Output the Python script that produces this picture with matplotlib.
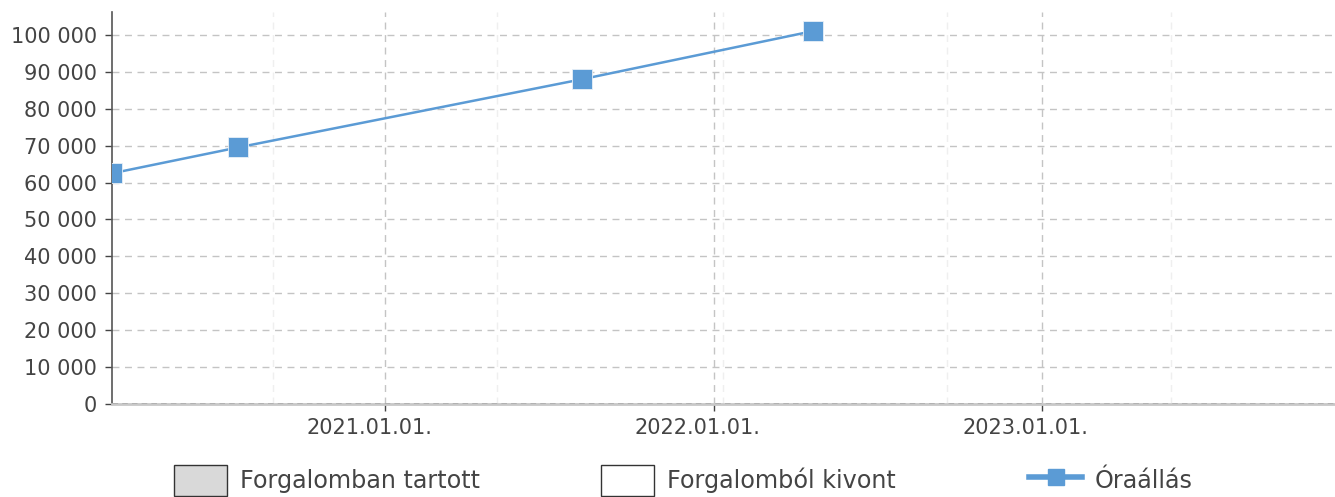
import matplotlib
matplotlib.use("Agg")
import matplotlib.pyplot as plt
import matplotlib.dates as mdates
import matplotlib.transforms as mtransforms
from matplotlib.patches import Patch
from matplotlib.lines import Line2D
from matplotlib.ticker import FuncFormatter
import pandas as pd

# data
dates = pd.to_datetime(["2020-03-03", "2020-07-21", "2021-08-08", "2022-04-21"])
readings = [62500, 69500, 88000, 101000]
year_ticks = pd.to_datetime(["2021-01-01", "2022-01-01", "2023-01-01"])
minor_ticks = pd.to_datetime(["2020-08-29", "2021-05-05", "2022-01-11", "2022-09-17", "2023-05-25"])
legend_labels = ["Forgalomban tartott", "Forgalomból kivont", "Óraállás"]

blue = "#5b9bd5"
text_col = "#444444"

fig = plt.figure(figsize=(13.35, 4.97), dpi=100)
ax = fig.add_axes([112 / 1335, 1 - 404 / 497, 1 - 112 / 1335, (404 - 12) / 497])

ax.plot(dates, readings, color=blue, linewidth=1.8, marker="s", markersize=14,
        markeredgecolor="#e8f0f8", markeredgewidth=0.6, zorder=5)

ax.set_xlim(pd.Timestamp("2020-03-03"), pd.Timestamp("2023-11-23"))
ax.set_ylim(0, 106200)

ax.set_yticks(range(0, 100001, 10000))
ax.yaxis.set_major_formatter(FuncFormatter(lambda v, p: f"{int(v):,}".replace(",", " ")))
ax.set_xticks(year_ticks)
ax.set_xticks(minor_ticks, minor=True)
ax.xaxis.set_major_formatter(mdates.DateFormatter("%Y.%m.%d."))

ax.tick_params(axis="both", labelsize=15, colors=text_col, length=5, width=1)
ax.tick_params(axis="y", pad=6)
ax.tick_params(axis="x", pad=5)
ax.tick_params(axis="x", which="minor", length=0)

# year labels sit a bit left of their ticks in the reference
shift = mtransforms.ScaledTranslation(-16 / 100, 0, fig.dpi_scale_trans)
for lab in ax.get_xticklabels():
    lab.set_transform(lab.get_transform() + shift)

ax.grid(axis="y", color="#c4c4c4", linestyle=(0, (5, 4)), linewidth=1)
ax.grid(axis="x", which="major", color="#c4c4c4", linestyle=(0, (5, 4)), linewidth=1)
ax.grid(axis="x", which="minor", color="#efefef", linestyle=(0, (5, 4)), linewidth=1)

for s in ["top", "right"]:
    ax.spines[s].set_visible(False)
ax.spines["left"].set_color("#555555")
ax.spines["left"].set_linewidth(1.2)
ax.spines["bottom"].set_color("#c8c8c8")
ax.spines["bottom"].set_linewidth(2)
ax.axhline(0, color="#444444", linestyle=(0, (4, 3)), linewidth=1, zorder=4)

handles = [
    Patch(facecolor="#d9d9d9", edgecolor="#333333", linewidth=1),
    Patch(facecolor="white", edgecolor="#333333", linewidth=1),
    Line2D([], [], color=blue, linewidth=4, marker="s", markersize=11, markeredgecolor=blue),
]
xs = [172, 599, 1027]
for h, lab, x in zip(handles, legend_labels, xs):
    fig.legend([h], [lab], loc="upper left", bbox_to_anchor=(x / 1335 - 0.0125, 1 - 446 / 497),
               frameon=False, fontsize=17.2, handlelength=2.2, handleheight=1.6,
               handletextpad=0.55, borderpad=0.3, labelcolor=text_col)

fig.savefig("out.png", dpi=100)
